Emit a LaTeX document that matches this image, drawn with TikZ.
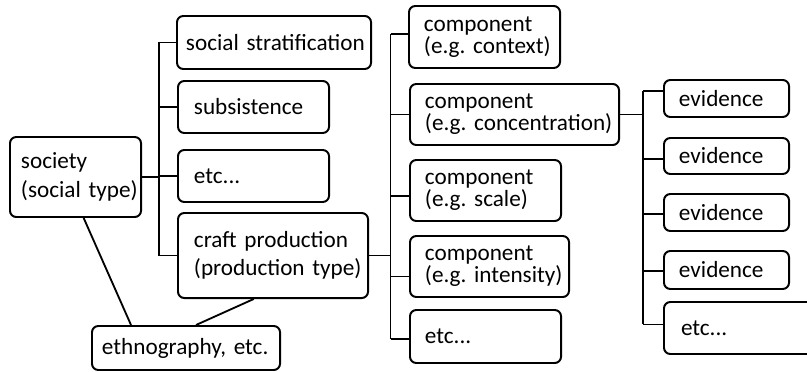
\documentclass[tikz,border=0pt]{standalone}
\usepackage{fontspec}
\setmainfont{Carlito}
\hyphenpenalty=10000
\exhyphenpenalty=10000

\tikzset{
  box/.style={draw, line width=1.4pt, rounded corners=4.5pt, anchor=north west, align=left,
    inner xsep=0.375cm, inner ysep=0pt, font=\fontsize{16.5pt}{20.3pt}\selectfont},
  comp/.style={box, font=\fontsize{16.5pt}{15.5pt}\selectfont},
  branch/.style={line width=0.8pt},
  link/.style={line width=1.3pt}
}

\begin{document}
\begin{tikzpicture}[x=0.025cm, y=-0.025cm]
  \useasboundingbox (0,0) rectangle (807,371);

  % society and its aspects
  \node[box, inner xsep=0.275cm, text width=2.725cm, minimum height=2cm] (soc) at (9,136) {society\\(social~type)};
  \node[box, inner xsep=0.225cm, text width=4.4cm, minimum height=1.325cm] (strat) at (176,15) {social~stratification};
  \node[box, inner xsep=0.4cm, text width=2.975cm, minimum height=1.3cm] (subs) at (177,80) {subsistence};
  \node[box, inner xsep=0.4cm, text width=2.975cm, minimum height=1.3cm] (etcA) at (177,149) {etc...};
  \node[box, inner xsep=0.4cm, text width=3.95cm, minimum height=2.125cm] (craft) at (177,212) {craft~production\\(production~type)};
  \node[box, inner xsep=0.25cm, text width=4.2cm, minimum height=1.1cm] (ethno) at (91,325) {ethnography,~etc.};

  % components
  \node[comp, text width=3.025cm, minimum height=1.55cm] (ctx) at (408,5) {component\\(e.g.~context)};
  \node[comp, text width=4.475cm, minimum height=1.525cm] (conc) at (409,83) {component\\(e.g.~concentration)};
  \node[comp, text width=3.025cm, minimum height=1.525cm] (scl) at (409,159) {component\\(e.g.~scale)};
  \node[comp, text width=3.225cm, minimum height=1.525cm] (int) at (409,235) {component\\(e.g.~intensity)};
  \node[box, text width=3.025cm, minimum height=1.325cm] (etcB) at (409,309) {etc...};

  % evidence
  \node[box, text width=2.375cm, minimum height=0.925cm] (evA) at (663,79) {evidence};
  \node[box, text width=2.375cm, minimum height=0.9cm] (evB) at (663,137) {evidence};
  \node[box, text width=2.375cm, minimum height=0.925cm] (evC) at (663,193) {evidence};
  \node[box, text width=2.375cm, minimum height=0.95cm] (evD) at (663,250) {evidence};
  \node[box, inner xsep=0.425cm, text width=3.4cm, minimum height=1.3cm] (etcC) at (663,301) {etc...};

  % trunks
  \coordinate (t1) at (159,0);
  \coordinate (t2) at (390.7,0);
  \coordinate (t3) at (643,0);

  \draw[branch] (t1 |- strat.west) -- (t1 |- craft.west);
  \foreach \n in {strat,subs,etcA,craft}
    \draw[branch] (t1 |- \n.west) -- (\n.west);
  \draw[branch] (soc.east) -- (t1 |- soc.east);

  \draw[branch] (craft.east) -- (t2 |- craft.east);
  \foreach \n/\s in {ctx/2.1,conc/0,scl/-3.9,int/-6.8,etcB/-1.8} {
    \coordinate (\n-in) at ([yshift=\s pt]\n.west);
    \draw[branch] (t2 |- \n-in) -- (\n-in);
  }
  \draw[branch] (t2 |- ctx-in) -- (t2 |- etcB-in);

  \draw[branch] (conc.east) -- (t3 |- conc.east);
  \foreach \n/\s in {evA/5.3,evB/-2.1,evC/-1.1,evD/-0.7,etcC/2.5} {
    \coordinate (\n-in) at ([yshift=\s pt]\n.west);
    \draw[branch] (t3 |- \n-in) -- (\n-in);
  }
  \draw[branch] (t3 |- evA-in) -- (t3 |- etcC-in);

  % ethnography links
  \draw[link] ([xshift=5.8pt]soc.south) -- ([xshift=-39.1pt]ethno.north);
  \draw[link] ([xshift=-13.7pt]craft.south) -- ([xshift=7.1pt]ethno.north);
\end{tikzpicture}
\end{document}
